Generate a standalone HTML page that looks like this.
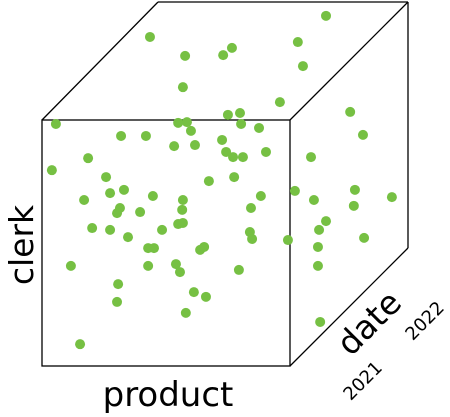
<!DOCTYPE html>
<html><head><meta charset="utf-8"><style>
html,body{margin:0;padding:0;background:#fff;}
svg{display:block;font-family:"DejaVu Sans","Liberation Sans",sans-serif;}
</style></head><body>
<svg id="chart" width="450" height="417" viewBox="0 0 450 417">
  <g fill="none" stroke="#000" stroke-width="1.3">
    <rect x="42" y="120" width="248" height="246"/>
    <line x1="42" y1="120" x2="158" y2="2"/>
    <line x1="158" y1="2" x2="408" y2="2"/>
    <line x1="290" y1="120" x2="408" y2="2"/>
    <line x1="408" y1="2" x2="408" y2="248"/>
    <line x1="290" y1="366" x2="408" y2="248"/>
  </g>
  <g id="points"></g>
  <text x="168" y="406" font-size="34" text-anchor="middle">product</text>
  <text transform="translate(33,245) rotate(-90)" font-size="33" text-anchor="middle">clerk</text>
  <text transform="translate(377,331) rotate(-45)" font-size="33" text-anchor="middle">date</text>
  <text transform="translate(367,385) rotate(-45)" font-size="18" text-anchor="middle">2021</text>
  <text transform="translate(429,325) rotate(-45)" font-size="18" text-anchor="middle">2022</text>
</svg>
<script>
const productVals=[77.6,29.5,51.9,39.1,49.5,69.9,71.3,38.5,65.0,3.8,39.6,37.2,50.8,54.1,84.2,21.6,28.4,40.7,54.4,59.3,87.7,2.7,12.6,36.1,41.8,49.2,50.3,52.2,54.9,61.2,73.5,17.5,22.4,18.6,11.5,30.3,38.5,45.6,52.5,69.1,74.3,85.5,95.6,85.2,21.3,20.5,26.8,38.3,37.2,38.5,57.1,59.8,77.6,75.7,13.7,18.6,23.5,32.8,56.8,57.4,67.2,88.0,75.4,29.0,30.6,43.2,44.3,7.9,29.0,36.6,37.7,75.4,53.8,20.8,41.5,44.8,20.5,39.3,76.0,10.4];
const clerkVals=[96.2,90.4,87.4,85.2,85.4,89.0,82.4,76.6,72.5,66.5,67.0,66.8,69.0,69.5,69.8,63.2,63.2,64.6,66.5,65.4,63.5,53.8,57.1,60.4,60.7,62.1,58.8,57.4,57.4,58.8,57.4,51.9,48.4,47.5,45.6,46.7,45.6,50.8,51.9,48.1,45.6,48.4,46.4,44.0,43.4,42.0,42.3,42.9,39.0,39.3,43.4,46.7,39.8,37.4,37.9,37.4,35.4,37.4,36.8,34.9,34.6,35.2,32.7,32.4,32.4,31.9,32.7,27.5,27.5,28.0,25.8,27.5,26.4,22.5,20.3,19.0,17.6,14.6,12.1,6.0];
function xScale(v){return 42+v/100*366;}
function yScale(v){return 366-v/100*364;}
const g=document.getElementById('points');
for(let i=0;i<productVals.length;i++){
  const c=document.createElementNS('http://www.w3.org/2000/svg','circle');
  c.setAttribute('cx',xScale(productVals[i]));
  c.setAttribute('cy',yScale(clerkVals[i]));
  c.setAttribute('r',5);
  c.setAttribute('fill','#76c043');
  
  
  g.appendChild(c);
}
</script>
</body></html>
